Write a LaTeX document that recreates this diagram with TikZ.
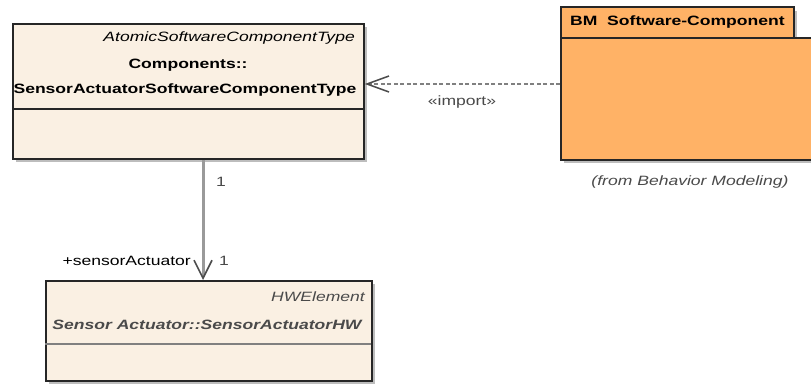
\documentclass[tikz,border=0pt]{standalone}
\usepackage{fontspec}
\setmainfont{Liberation Sans}[FakeStretch=1.3]
\usetikzlibrary{arrows.meta}
\definecolor{beige}{HTML}{FAF0E3}
\definecolor{pkgorange}{HTML}{FFB266}
\definecolor{shadowgray}{HTML}{BDBDBD}
\definecolor{linegray}{HTML}{9A9A9A}
\definecolor{txtgray}{HTML}{4A4A4A}
\begin{document}
\begin{tikzpicture}[x=1pt,y=-1pt,
  every node/.style={font=\fontsize{13.5pt}{16pt}\selectfont, inner sep=0pt},
  umlbox/.style={draw=black!85, line width=1.8pt, fill=beige, anchor=north west, rectangle},
  pkgpart/.style={draw=black!85, line width=1.8pt, fill=pkgorange, anchor=north west, rectangle},
  assoc/.style={draw=linegray, line width=3pt, -{Straight Barb[length=18pt,width=18pt,line width=1.6pt,color=black!70]}},
  importline/.style={draw=gray, line width=1.6pt, dash pattern=on 4pt off 2.5pt, -{Straight Barb[length=22pt,width=16pt,line width=1.5pt,color=black!70]}}
]
\clip (0,0) rectangle (811,383);
\fill[white] (0,0) rectangle (811,383);

% shadows
\fill[shadowgray] (16,27) rectangle (367,162);
\fill[shadowgray] (49,284) rectangle (375,384);
\fill[shadowgray] (564,11) rectangle (797,41);
\fill[shadowgray] (564,41) rectangle (830,163);

% top class
\node[umlbox, minimum width=351pt, minimum height=135pt] (sw) at (12,23) {};
\draw[line width=1.8pt, draw=black!85] (12,109) -- (363,109);
\node[anchor=east] (swst) at (355,38) {\itshape AtomicSoftwareComponentType};
\node (swn1) at (188,65) {\bfseries Components::};
\node (swn2) at (185,90) {\bfseries SensorActuatorSoftwareComponentType};

% bottom class
\node[umlbox, minimum width=326pt, minimum height=100pt] (hw) at (45,280) {};
\draw[line width=2.2pt, draw=gray] (45,344) -- (371,344);
\node[anchor=east, text=txtgray] (hwst) at (365,297) {\itshape HWElement};
\node[text=txtgray] (hwn) at (207,325) {\bfseries\itshape Sensor Actuator::SensorActuatorHW};

% package
\node[pkgpart, minimum width=233pt, minimum height=31pt] (tab) at (560,6) {};
\node[pkgpart, minimum width=270pt, minimum height=122pt] (pkg) at (560,37) {};
\node[anchor=west] (pkgn) at (570,22) {\bfseries BM\ \ Software-Component};
\node[text=txtgray] (from) at (690,182) {\itshape (from Behavior Modeling)};

% connectors
\coordinate (ax) at (203,0);
\coordinate (iy) at (0,84);
\draw[assoc] (sw.south -| ax) -- (hw.north -| ax);
\draw[importline] (pkg.west |- iy) -- (sw.east |- iy);

% labels
\node[text=txtgray] (m1) at (221,182) {1};
\node[anchor=east] (role) at (191,261) {+sensorActuator};
\node[text=txtgray] (m2) at (224,261) {1};
\node[text=txtgray] (imp) at (462,102) {«import»};
\end{tikzpicture}
\end{document}
